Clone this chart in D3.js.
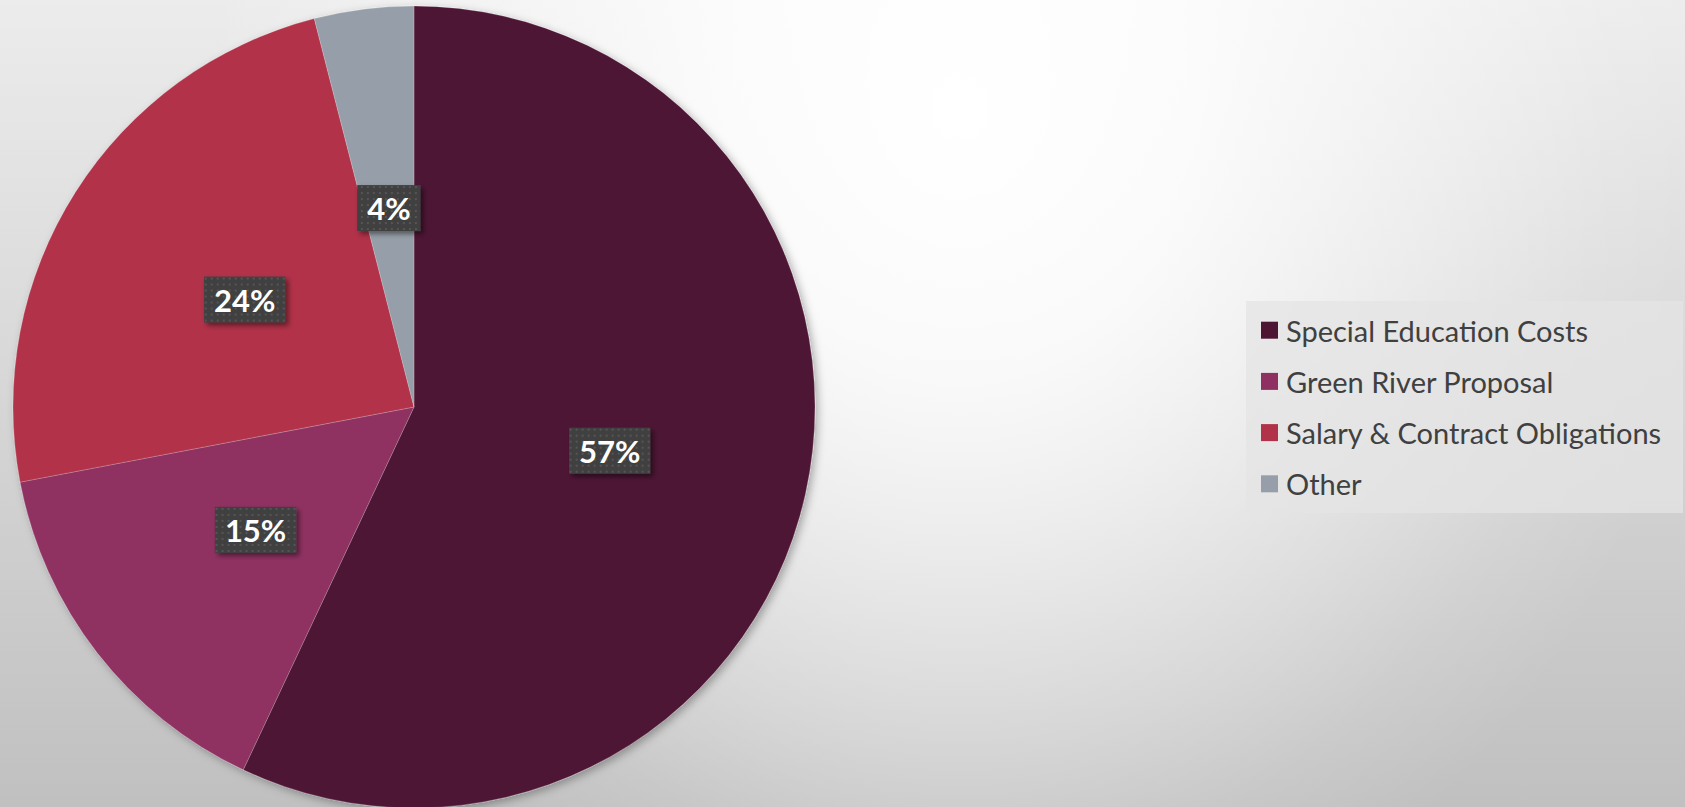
<!DOCTYPE html>
<html>
<head>
<meta charset="utf-8">
<script src="https://cdn.jsdelivr.net/npm/d3@7"></script>
<style>
  html, body { margin: 0; padding: 0; overflow: hidden; }
  svg { display: block; }
</style>
</head>
<body>
<svg id="chart" width="1685" height="807"></svg>
<script>
const categories = ["Special Education Costs", "Green River Proposal", "Salary & Contract Obligations", "Other"];
const values = [57, 15, 24, 4];
const labels = ["57%", "15%", "24%", "4%"];
const colors = ["#4e1434", "#8f3062", "#b13349", "#969fa9"];

const W = 1685, H = 807;
const svg = d3.select("#chart");
const defs = svg.append("defs");

// background: vertical base gradient + white elliptical highlight
const base = defs.append("linearGradient").attr("id", "bgBase")
  .attr("x1", 0).attr("y1", 0).attr("x2", 0).attr("y2", 1);
[[0, "#ececec"], [1, "#c0c0c0"]]
  .forEach(([o, c]) => base.append("stop").attr("offset", o).attr("stop-color", c));
const hl = defs.append("radialGradient").attr("id", "bgHl")
  .attr("gradientUnits", "userSpaceOnUse")
  .attr("cx", 0).attr("cy", 0).attr("r", 1)
  .attr("gradientTransform", "translate(960,110) scale(760,900)");
[[0, 1], [0.3, 0.85], [0.6, 0.45], [0.85, 0.12], [1, 0]]
  .forEach(([o, a]) => hl.append("stop").attr("offset", o).attr("stop-color", "#ffffff").attr("stop-opacity", a));
svg.append("rect").attr("width", W).attr("height", H).attr("fill", "url(#bgBase)");
svg.append("rect").attr("width", W).attr("height", H).attr("fill", "url(#bgHl)");

// shadows
const sh = defs.append("filter").attr("id", "pieShadow")
  .attr("x", "-10%").attr("y", "-10%").attr("width", "120%").attr("height", "120%");
sh.append("feDropShadow").attr("dx", 3).attr("dy", 3).attr("stdDeviation", 4)
  .attr("flood-color", "#000").attr("flood-opacity", 0.3);
const lsh = defs.append("filter").attr("id", "lblShadow")
  .attr("x", "-20%").attr("y", "-20%").attr("width", "150%").attr("height", "150%");
lsh.append("feDropShadow").attr("dx", 3).attr("dy", 3).attr("stdDeviation", 2.5)
  .attr("flood-color", "#000").attr("flood-opacity", 0.45);

// dotted pattern for label boxes
const pat = defs.append("pattern").attr("id", "dots")
  .attr("patternUnits", "userSpaceOnUse").attr("width", 6).attr("height", 6);
pat.append("rect").attr("width", 6).attr("height", 6).attr("fill", "#404040");
pat.append("rect").attr("x", 2).attr("y", 2).attr("width", 2).attr("height", 2).attr("fill", "#555555");

const cx = 414, cy = 407, R = 401;
const pie = d3.pie().sort(null).value(d => d.v);
const data = categories.map((c, i) => ({ c, v: values[i], col: colors[i], lab: labels[i] }));
const arcs = pie(data);
const arc = d3.arc().innerRadius(0).outerRadius(R);

const g = svg.append("g").attr("transform", `translate(${cx},${cy})`);
g.append("g").attr("filter", "url(#pieShadow)")
  .selectAll("path").data(arcs).join("path")
  .attr("d", arc)
  .attr("fill", d => d.data.col)
  .attr("stroke", "rgba(255,255,255,0.25)")
  .attr("stroke-width", 0.8);

// data labels
const lg = g.selectAll("g.lbl").data(arcs).join("g").attr("class", "lbl")
  .attr("transform", d => { const [x, y] = arc.centroid(d); return `translate(${x},${y})`; });
lg.each(function(d) {
  const s = d3.select(this);
  const t = s.append("text")
    .attr("text-anchor", "middle").attr("dominant-baseline", "central")
    .attr("font-family", "Lato, 'Open Sans', sans-serif").attr("font-weight", 700)
    .attr("font-size", 31).attr("fill", "#ffffff")
    .text(d.data.lab);
  const bb = t.node().getBBox();
  const padX = 10;
  s.insert("rect", "text")
    .attr("x", -bb.width / 2 - padX).attr("y", -23)
    .attr("width", bb.width + 2 * padX).attr("height", 46)
    .attr("fill", "url(#dots)")
    .attr("filter", "url(#lblShadow)");
});

// legend
const leg = svg.append("g");
leg.append("rect").attr("x", 1246).attr("y", 301).attr("width", 437).attr("height", 212)
  .attr("fill", "#e4e4e4").attr("fill-opacity", 0.75);
const rowY = d3.scaleBand().domain(categories).range([301, 513]).paddingOuter(0.07);
const items = leg.selectAll("g.it").data(data).join("g").attr("class", "it")
  .attr("transform", d => `translate(1261, ${rowY(d.c) + rowY.bandwidth() / 2})`);
items.append("rect").attr("x", 0).attr("y", -8.5).attr("width", 17).attr("height", 17)
  .attr("fill", d => d.col);
items.append("text").attr("x", 25).attr("y", 0).attr("dominant-baseline", "central")
  .attr("font-family", "Lato, 'Open Sans', sans-serif").attr("font-size", 29)
  .attr("fill", "#404040")
  .text(d => d.c);
</script>
</body>
</html>
